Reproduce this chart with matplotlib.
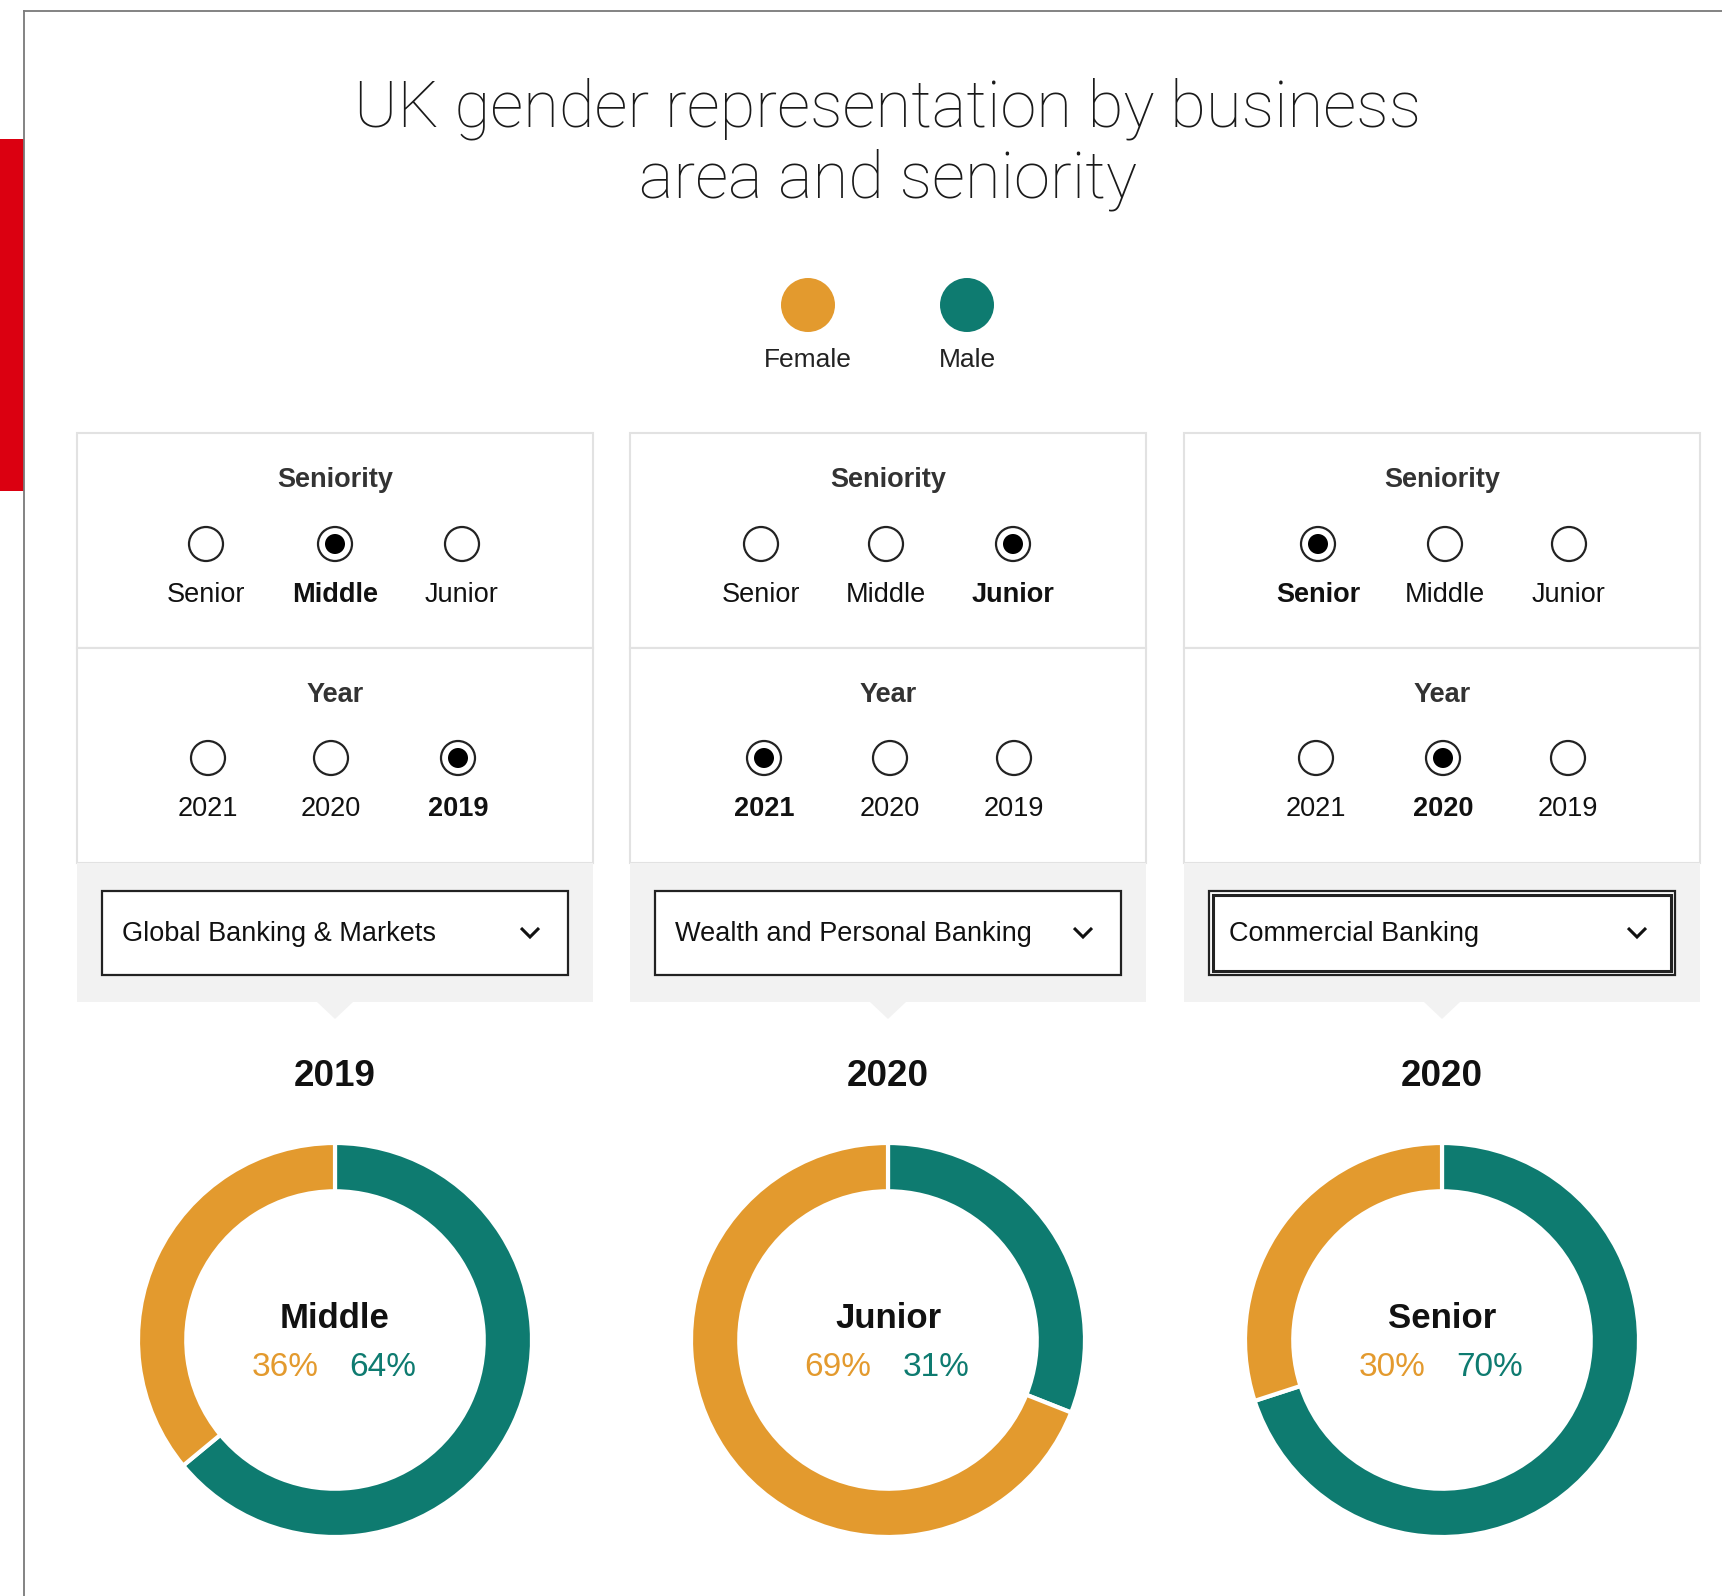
import matplotlib
matplotlib.use("Agg")
import matplotlib.pyplot as plt
from matplotlib.patches import Rectangle, Circle, Polygon
from matplotlib.lines import Line2D

# ---------------- data ----------------
title_lines = ["UK gender representation by business", "area and seniority"]
legend_labels = ["Female", "Male"]
business_areas = ["Global Banking & Markets", "Wealth and Personal Banking", "Commercial Banking"]
seniority_options = ["Senior", "Middle", "Junior"]
year_options = ["2021", "2020", "2019"]
seniority_selected = ["Middle", "Junior", "Senior"]
year_selected = ["2019", "2021", "2020"]
chart_years = ["2019", "2020", "2020"]
female_pct = [36, 69, 30]
male_pct = [64, 31, 70]

# ---------------- style ----------------
FEMALE = "#E39A2E"
MALE = "#0E7B70"
RED = "#DB0011"
GRAY_BG = "#F2F2F2"
BORDER = "#E2E2E2"
TXT = "#222222"
FONT = ["Liberation Sans", "DejaVu Sans"]
plt.rcParams["font.family"] = FONT

W, H = 1722, 1596
fig = plt.figure(figsize=(W / 100, H / 100), dpi=100)
ax = fig.add_axes([0, 0, 1, 1])
ax.set_xlim(0, W)
ax.set_ylim(H, 0)
ax.axis("off")

# outer frame + red tab
ax.add_line(Line2D([24, 24], [11, H], color="#7a7a7a", lw=1.3))
ax.add_line(Line2D([24, W], [11, 11], color="#7a7a7a", lw=1.3))
ax.add_patch(Rectangle((0, 139), 24, 352, color=RED, lw=0))

# title
ax.text(888, 109, title_lines[0], ha="center", va="center", fontsize=47,
        family=["Roboto", "DejaVu Sans"], fontweight="light", color="#1a1a1a")
ax.text(888, 180, title_lines[1], ha="center", va="center", fontsize=47,
        family=["Roboto", "DejaVu Sans"], fontweight="light", color="#1a1a1a")

# legend
for cx, lab, col in zip([808, 967], legend_labels, [FEMALE, MALE]):
    ax.add_patch(Circle((cx, 305), 27, color=col, lw=0))
    ax.text(cx, 360, lab, ha="center", va="center", fontsize=19, color=TXT)

panel_left = [77, 630, 1184]
panel_w = 516
rx_sen = [[206, 335, 462], [761, 886, 1013], [1318, 1445, 1569]]
rx_year = [[208, 331, 458], [764, 890, 1014], [1316, 1443, 1568]]

LBL = 19.5


def radio(x, y, sel):
    ax.add_patch(Circle((x, y), 17, facecolor="white", edgecolor="#222222", lw=1.6, zorder=3))
    if sel:
        ax.add_patch(Circle((x, y), 10, facecolor="black", edgecolor="none", zorder=4))


for i in range(3):
    L = panel_left[i]
    cx = L + panel_w / 2
    # panel boxes
    ax.add_patch(Rectangle((L, 433), panel_w, 215, facecolor="white", edgecolor=BORDER, lw=1.5))
    ax.add_patch(Rectangle((L, 648), panel_w, 215, facecolor="white", edgecolor=BORDER, lw=1.5))
    ax.add_patch(Rectangle((L, 863), panel_w, 139, facecolor=GRAY_BG, edgecolor="none"))
    ax.add_patch(Polygon([(cx - 18, 1002), (cx + 18, 1002), (cx, 1019)], closed=True,
                         facecolor=GRAY_BG, edgecolor="none"))
    # seniority
    ax.text(cx, 480, "Seniority", ha="center", va="center", fontsize=LBL,
            fontweight="bold", color="#333333")
    for x, opt in zip(rx_sen[i], seniority_options):
        s = opt == seniority_selected[i]
        radio(x, 544, s)
        ax.text(x, 595, opt, ha="center", va="center", fontsize=LBL,
                fontweight="bold" if s else "normal", color="#111111")
    # year
    ax.text(cx, 695, "Year", ha="center", va="center", fontsize=LBL,
            fontweight="bold", color="#333333")
    for x, opt in zip(rx_year[i], year_options):
        s = opt == year_selected[i]
        radio(x, 758, s)
        ax.text(x, 809, opt, ha="center", va="center", fontsize=LBL,
                fontweight="bold" if s else "normal", color="#111111")
    # dropdown
    bx, by, bw, bh = L + 25, 891, panel_w - 50, 84
    ax.add_patch(Rectangle((bx, by), bw, bh, facecolor="white", edgecolor="#222222",
                           lw=1.6, zorder=3))
    if i == 2:
        ax.add_patch(Rectangle((bx + 4, by + 4), bw - 8, bh - 8, facecolor="none",
                               edgecolor="#222222", lw=2.2, zorder=4))
    ax.text(bx + 20, by + bh / 2 + 1, business_areas[i], ha="left", va="center",
            fontsize=19.5, color="#111111", zorder=5)
    chx = bx + bw - 38
    ax.add_line(Line2D([chx - 9, chx, chx + 9], [by + bh / 2 - 5, by + bh / 2 + 4, by + bh / 2 - 5],
                       color="#111111", lw=2.2, zorder=5, solid_capstyle="butt",
                       solid_joinstyle="miter"))
    # chart title
    ax.text(cx, 1076, chart_years[i], ha="center", va="center", fontsize=26.5,
            fontweight="bold", color="#111111")

# donuts
R = 197
for i in range(3):
    cx = panel_left[i] + panel_w / 2
    cy = 1340
    dax = fig.add_axes([(cx - R) / W, 1 - (cy + R) / H, 2 * R / W, 2 * R / H])
    dax.pie([male_pct[i], female_pct[i]], colors=[MALE, FEMALE], startangle=90,
            counterclock=False, radius=1.0,
            wedgeprops=dict(width=0.245, edgecolor="white", linewidth=3.0))
    dax.set_xlim(-1, 1)
    dax.set_ylim(-1, 1)
    dax.set_aspect("equal")
    dax.axis("off")
    sen = seniority_selected[i]
    ax.text(cx, 1319, sen, ha="center", va="center", fontsize=25, fontweight="bold",
            color="#111111", zorder=10)
    ax.text(cx - 50, 1367, f"{female_pct[i]}%", ha="center", va="center", fontsize=24,
            color=FEMALE, zorder=10)
    ax.text(cx + 48, 1367, f"{male_pct[i]}%", ha="center", va="center", fontsize=24,
            color=MALE, zorder=10)

fig.savefig("out.png", dpi=100, facecolor="white")
